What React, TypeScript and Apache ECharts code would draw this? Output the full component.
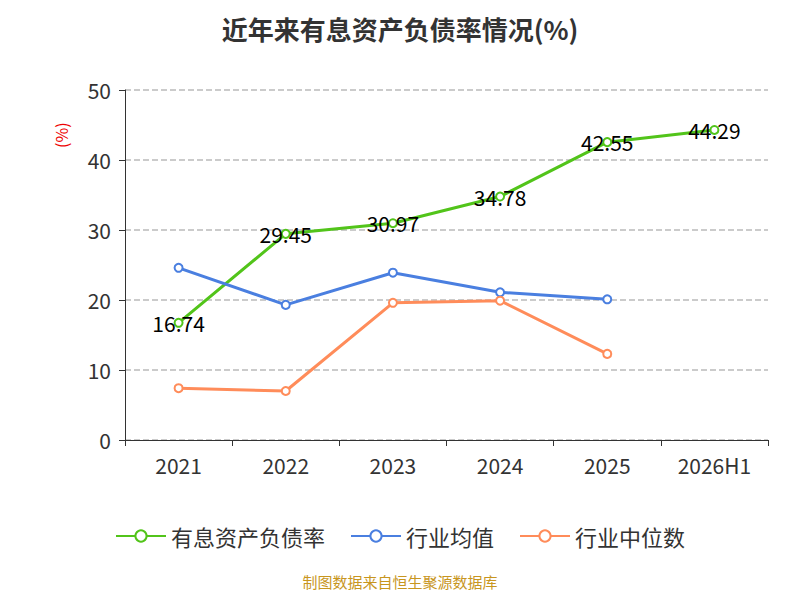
import React, { useEffect, useRef } from 'react';
import * as echarts from 'echarts';

const categories = ['2021', '2022', '2023', '2024', '2025', '2026H1'];
const debtRatio = [16.74, 29.45, 30.97, 34.78, 42.55, 44.29];
const industryAvg = [24.6, 19.3, 23.9, 21.1, 20.1, null];
const industryMedian = [7.4, 7.0, 19.6, 19.9, 12.3, null];

const App: React.FC = () => {
  const chartRef = useRef<HTMLDivElement>(null);

  useEffect(() => {
    const chart = echarts.init(chartRef.current!, undefined, { renderer: 'svg' });
    const font = '"Noto Sans CJK SC", "Noto Sans", sans-serif';
    const line = (name: string, data: (number | null)[], color: string, label: boolean) => ({
      name,
      type: 'line',
      data,
      symbol: 'emptyCircle',
      symbolSize: 8,
      itemStyle: { color, borderColor: color, borderWidth: 1.5 },
      lineStyle: { color, width: 3 },
      emphasis: { disabled: true },
      label: label
        ? { show: true, position: 'inside', color: '#000', fontSize: 21, fontFamily: font, formatter: (p: any) => p.value.toFixed(2) }
        : { show: false },
    });
    chart.setOption({
      animation: false,
      textStyle: { fontFamily: font },
      title: {
        text: '近年来有息资产负债率情况(%)',
        left: 'center',
        top: 2,
        textStyle: { fontSize: 26, fontWeight: 'bold', color: '#333', fontFamily: font },
      },
      graphic: [
        {
          type: 'text',
          left: 'center',
          top: 566,
          style: { text: '制图数据来自恒生聚源数据库', fill: '#c8961e', fontSize: 15, fontFamily: font },
        },
      ],
      legend: {
        top: 512,
        itemWidth: 50,
        itemHeight: 14,
        itemGap: 25,
        textStyle: { fontSize: 22, color: '#333', fontFamily: font },
        data: ['有息资产负债率', '行业均值', '行业中位数'],
      },
      grid: { left: 117, right: 24, top: 82, bottom: 152 },
      xAxis: {
        type: 'category',
        data: categories,
        axisLine: { lineStyle: { color: '#333' } },
        axisTick: { show: true, length: 6, lineStyle: { color: '#333' } },
        axisLabel: { fontSize: 21, color: '#333', margin: 14 },
      },
      yAxis: {
        type: 'value',
        min: 0,
        max: 50,
        interval: 10,
        axisLine: { show: true, lineStyle: { color: '#333' } },
        axisTick: { show: true, length: 6, lineStyle: { color: '#333' } },
        axisLabel: { fontSize: 21, color: '#333', margin: 14 },
        splitLine: { lineStyle: { type: 'dashed', color: '#bbb', width: 1.5 } },
      },
      series: [
        {
          ...line('有息资产负债率', debtRatio, '#52c41a', true),
          markPoint: undefined,
        },
        line('行业均值', industryAvg, '#4a7fe0', false),
        line('行业中位数', industryMedian, '#ff8c5a', false),
      ],
    });
    chart.setOption({
      graphic: [
        {
          type: 'text',
          left: 'center',
          top: 566,
          style: { text: '制图数据来自恒生聚源数据库', fill: '#c8961e', fontSize: 15, fontFamily: font },
        },
        {
          type: 'text',
          x: 45,
          y: 140,
          rotation: Math.PI / 2,
          style: { text: '(%)', fill: '#e00', fontSize: 16, fontFamily: font },
        },
      ],
    });
    return () => chart.dispose();
  }, []);

  return <div ref={chartRef} style={{ width: 784, height: 584 }} />;
};

export default App;
